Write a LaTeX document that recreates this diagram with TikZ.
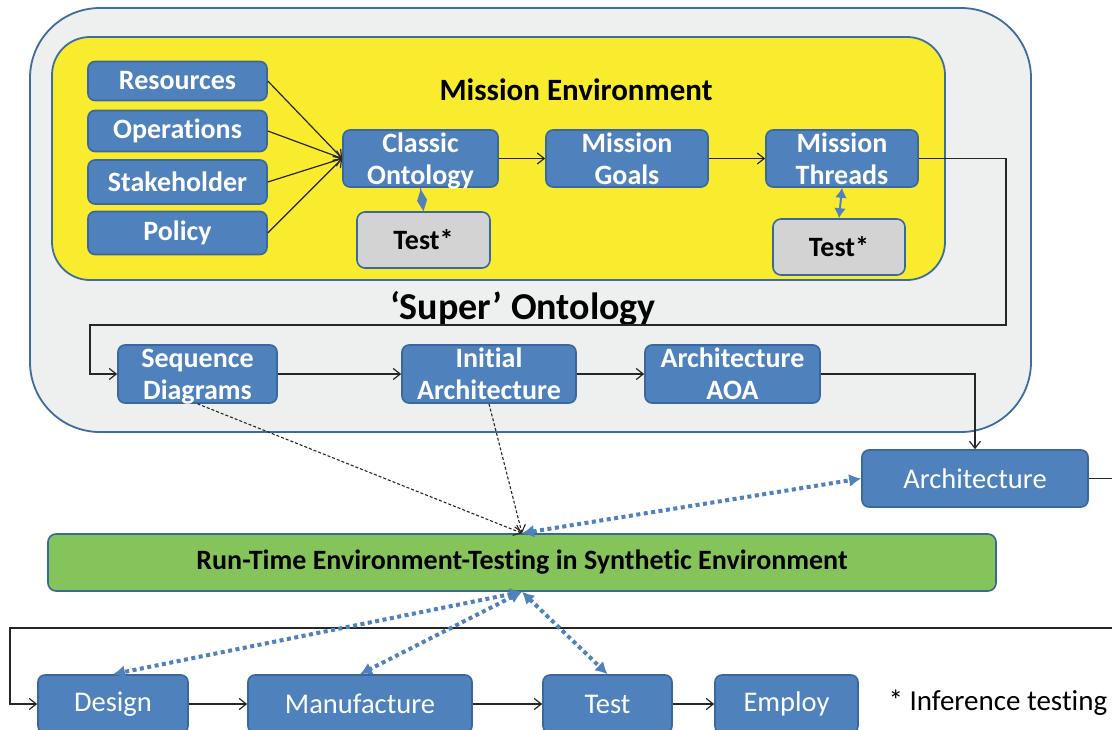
\documentclass[tikz,border=0pt]{standalone}
\usepackage{fontspec}
\setmainfont{Carlito}[Ligatures=NoCommon]
\usetikzlibrary{arrows.meta,calc}
\definecolor{boxblue}{HTML}{4F81BD}
\definecolor{bordblue}{HTML}{3A679C}
\definecolor{yell}{HTML}{F9EC2E}
\definecolor{outgray}{HTML}{EEEFEF}
\definecolor{outbord}{HTML}{3D6D9E}
\definecolor{testgray}{HTML}{D3D3D3}
\definecolor{rtgreen}{HTML}{84C45A}
\begin{document}
\begin{tikzpicture}[x=1pt,y=-1pt,
  bluebox/.style={draw=bordblue, fill=boxblue, rounded corners=7pt, line width=1.6pt,
     text=white, align=center, inner sep=0pt, font=\bfseries\fontsize{28}{32}\selectfont},
  twol/.style={text depth=-2pt},
  lowbox/.style={draw=bordblue, fill=boxblue, rounded corners=7pt, line width=1.6pt,
     text=white, align=center, inner sep=0pt, font=\fontsize{28.5}{32}\selectfont},
  testbox/.style={draw=bordblue, fill=testgray, rounded corners=8pt, line width=1.6pt,
     text=black, align=center, inner sep=0pt, font=\bfseries\fontsize{28}{32}\selectfont},
  conn/.style={draw=black!85, line width=1.2pt, -{Straight Barb[length=7pt,width=11pt]}},
  dashconn/.style={draw=black!85, line width=1.1pt, dash pattern=on 3pt off 2pt, -{Straight Barb[length=7pt,width=11pt]}},
  dotb/.style={draw=boxblue, line width=4pt, dash pattern=on 4pt off 3.5pt,
     {Latex[length=12pt,width=13pt]}-{Latex[length=12pt,width=13pt]}},
]
\useasboundingbox (0,0) rectangle (1112,729);
\clip (0,0) rectangle (1112,729);
\fill[white] (0,0) rectangle (1112,729);

% containers
\draw[fill=outgray, draw=outbord, line width=1.8pt, rounded corners=70pt] (30,8) rectangle (1031,432);
\draw[fill=yell, draw=outbord, line width=1.8pt, rounded corners=38pt] (52,37) rectangle (945,280);
\node[font=\bfseries\fontsize{31}{34}\selectfont] (me) at (576,90) {Mission Environment};
\node[font=\bfseries\fontsize{38}{40}\selectfont] (so) at (523,309) {‘Super’ Ontology};

% left inputs
\node[bluebox, minimum width=179, minimum height=39] (res) at (177.5,81) {Resources};
\node[bluebox, minimum width=179, minimum height=41] (ops) at (177.5,131) {Operations};
\node[bluebox, minimum width=179, minimum height=44] (stk) at (177.5,182) {Stakeholder};
\node[bluebox, minimum width=179, minimum height=43] (pol) at (177.5,233) {Policy};

% mission chain
\node[bluebox, twol, minimum width=155, minimum height=57] (co) at (420.5,158.5) {Classic\\Ontology};
\node[bluebox, twol, minimum width=162, minimum height=57] (mg) at (627,158.5) {Mission\\Goals};
\node[bluebox, twol, minimum width=152, minimum height=57] (mt) at (842,158.5) {Mission\\Threads};
\node[testbox, minimum width=133, minimum height=56] (t1) at (423.5,240) {Test*};
\node[testbox, minimum width=132, minimum height=56] (t2) at (839,247) {Test*};

% super ontology chain
\node[bluebox, twol, minimum width=159, minimum height=58] (sd) at (197.5,374) {Sequence\\Diagrams};
\node[bluebox, twol, minimum width=174, minimum height=58] (ia) at (489,374) {Initial\\Architecture};
\node[bluebox, twol, minimum width=175, minimum height=58] (aoa) at (732.5,374) {Architecture\\AOA};

\node[lowbox, minimum width=226, minimum height=57] (arch) at (975,478.5) {Architecture};

\node[draw=bordblue, fill=rtgreen, rounded corners=8pt, line width=1.6pt, minimum width=948, minimum height=57,
  inner sep=0pt, font=\bfseries\fontsize{28}{30}\selectfont] (rt) at (522,562.5) {Run-Time Environment-Testing in Synthetic Environment};

% lifecycle
\node[lowbox, minimum width=150, minimum height=58] (des) at (113,704) {Design};
\node[lowbox, minimum width=224, minimum height=58] (man) at (360,704) {Manufacture};
\node[lowbox, minimum width=129, minimum height=58] (tst) at (607.5,704) {Test};
\node[lowbox, minimum width=143, minimum height=58] (emp) at (786.5,704) {Employ};
\node[anchor=west, font=\fontsize{29}{32}\selectfont] (note) at (885,703) {* Inference testing};

% coordinates for loops
\coordinate (l1) at (1006,325);
\coordinate (l2) at (90,325);
\coordinate (r1) at (1150,478.5);
\coordinate (r2) at (1150,628);
\coordinate (l4) at (10,628);

% connectors
\foreach \s in {res,ops,stk,pol} \draw[conn] (\s.east) -- (co.west);
\draw[conn] (co.east) -- (mg.west);
\draw[conn] (mg.east) -- (mt.west);
\draw[conn] (mt.east) -| (l1) -- (l2) |- (sd.west);
\draw[conn] (sd.east) -- (ia.west);
\draw[conn] (ia.east) -- (aoa.west);
\draw[conn] (aoa.east) -| (arch.north);
\draw[conn] (arch.east) -- (r1) -- (r2) -- (l4) |- (des.west);
\draw[conn] (des.east) -- (man.west);
\draw[conn] (man.east) -- (tst.west);
\draw[conn] (tst.east) -- (emp.west);

\draw[draw=boxblue, line width=1pt, -{Diamond[length=22pt,width=10pt,fill=boxblue]}] (co.south) -- (t1.north);
\draw[draw=boxblue, line width=2pt, {Latex[length=10pt,width=12pt]}-{Latex[length=10pt,width=12pt]}] (mt.south) -- (t2.north);

\draw[dashconn] (sd.south) -- (rt.north);
\draw[dashconn] (ia.south) -- (rt.north);
\draw[dotb] (rt.north) -- (arch.west);
\draw[dotb] (rt.south) -- (des.north);
\draw[dotb] (rt.south) -- (man.north);
\draw[dotb] (rt.south) -- (tst.north);
\end{tikzpicture}
\end{document}
